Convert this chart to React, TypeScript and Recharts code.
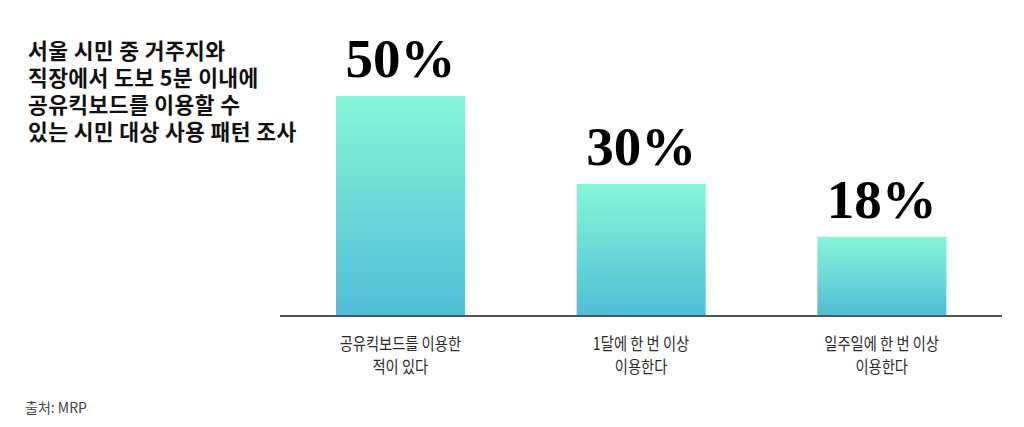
import React from "react";
import { BarChart, Bar, XAxis, YAxis, LabelList } from "recharts";

const categories = ["공유킥보드를 이용한\n적이 있다", "1달에 한 번 이상\n이용한다", "일주일에 한 번 이상\n이용한다"];
const shares = [50, 30, 18];
const titleLines = ["서울 시민 중 거주지와", "직장에서 도보 5분 이내에", "공유킥보드를 이용할 수", "있는 시민 대상 사용 패턴 조사"];
const source = "출처: MRP";

const data = categories.map((name, i) => ({ name, value: shares[i] }));

const KR = "'Noto Sans CJK KR', 'Noto Sans', sans-serif";

// two-line category label, slightly condensed like the original
function Tick(props: any) {
  const { x, y, payload } = props;
  const lines = String(payload.value).split("\n");
  return (
    <g transform={`translate(${x},${y}) scale(0.84,1)`}>
      <text x={0} y={0} textAnchor="middle" fill="#2a2a2a" fontFamily={KR} fontSize={17}>
        {lines.map((l, i) => (
          <tspan key={i} x={0} dy={i === 0 ? 26 : 23}>
            {l}
          </tspan>
        ))}
      </text>
    </g>
  );
}

function Pct(props: any) {
  const { x, y, width, value } = props;
  return (
    <text
      x={x + width / 2}
      y={y - 19}
      textAnchor="middle"
      fill="#000"
      fontFamily="'Liberation Serif', 'DejaVu Serif', serif"
      fontWeight="bold"
      fontSize={55}
    >
      {value}%
    </text>
  );
}

export default function App() {
  return (
    <div style={{ position: "relative", width: 1024, height: 427, margin: -8, background: "#fff", overflow: "hidden" }}>
      {titleLines.map((t, i) => (
        <div
          key={t}
          style={{
            position: "absolute",
            left: 28,
            top: 38 + i * 27,
            height: 24,
            fontFamily: KR,
            fontWeight: 700,
            fontSize: 21.5,
            lineHeight: "24px",
            letterSpacing: 0.4,
            color: "#111",
            whiteSpace: "nowrap",
          }}
        >
          {t}
        </div>
      ))}
      <div style={{ position: "absolute", left: 25, top: 397, fontFamily: KR, fontSize: 14, color: "#444" }}>{source}</div>
      <div style={{ position: "absolute", left: 0, top: 0 }}>
        <BarChart width={1024} height={427} data={data} margin={{ top: 96, right: 22, bottom: 51, left: 280 }}>
          <defs>
            <linearGradient id="barGrad" x1="0" y1="0" x2="0" y2="1">
              <stop offset="0%" stopColor="#86f6d8" />
              <stop offset="100%" stopColor="#50bdd6" />
            </linearGradient>
          </defs>
          <XAxis
            dataKey="name"
            axisLine={{ stroke: "#555", strokeWidth: 2 }}
            tickLine={false}
            height={60}
            interval={0}
            tick={<Tick />}
          />
          <YAxis hide domain={[0, 50]} />
          <Bar dataKey="value" fill="url(#barGrad)" barSize={129} isAnimationActive={false}>
            <LabelList dataKey="value" content={<Pct />} />
          </Bar>
        </BarChart>
      </div>
    </div>
  );
}
